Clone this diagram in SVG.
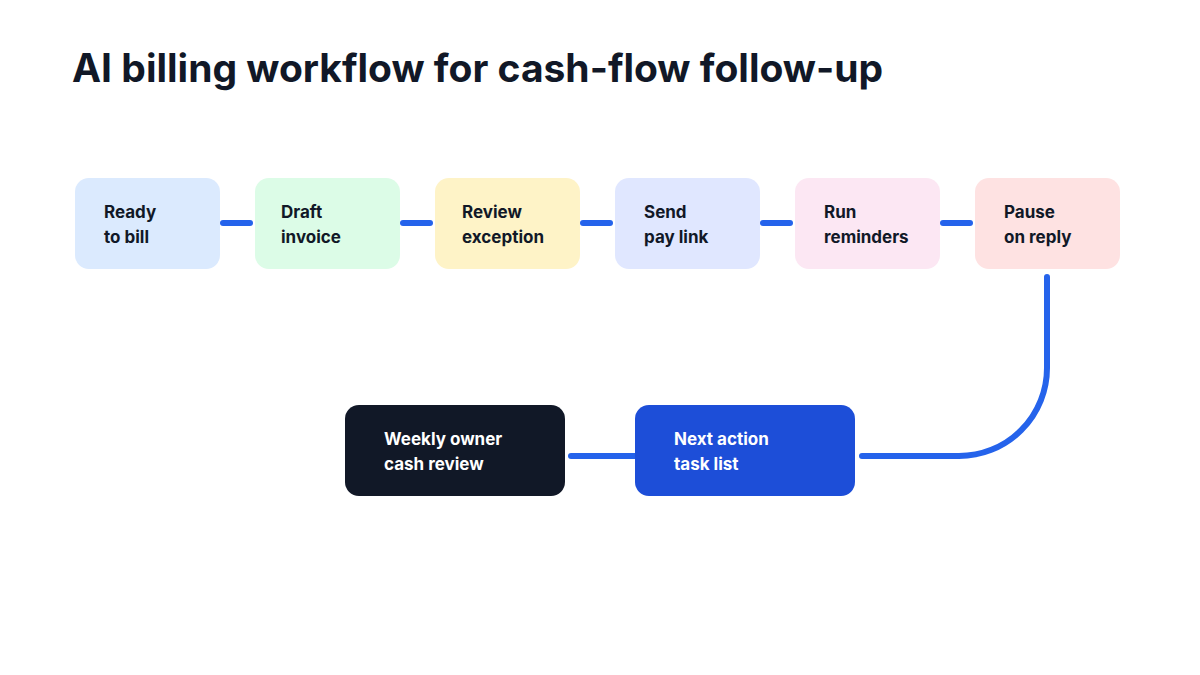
<svg xmlns="http://www.w3.org/2000/svg" width="1200" height="675" viewBox="0 0 1200 675">
<style>
.t{font-family:Inter,"Liberation Sans",sans-serif;font-weight:700;font-size:17px;fill:#111827}
.w{fill:#ffffff}
.c{stroke:#2563eb;stroke-width:6;stroke-linecap:round;fill:none}
</style>
<rect width="1200" height="675" fill="#ffffff"/>
<text x="72" y="82" font-family="Inter,'Liberation Sans',sans-serif" font-weight="700" font-size="39" fill="#111827">AI billing workflow for cash-flow follow-up</text>
<g id="connectors">
<line class="c" x1="223" y1="223" x2="250" y2="223"/>
<line class="c" x1="403" y1="223" x2="430" y2="223"/>
<line class="c" x1="583" y1="223" x2="610" y2="223"/>
<line class="c" x1="763" y1="223" x2="790" y2="223"/>
<line class="c" x1="943" y1="223" x2="970" y2="223"/>
<path class="c" d="M1047 277 V368 A88 88 0 0 1 959 456 H862"/>
<line class="c" x1="571" y1="456" x2="635" y2="456" stroke-width="5"/>
</g>
<g id="n1"><rect x="75" y="178" width="145" height="91" rx="14" fill="#dbeafe"/><text class="t" x="104" y="218">Ready</text><text class="t" x="104" y="243">to bill</text></g>
<g id="n2"><rect x="255" y="178" width="145" height="91" rx="14" fill="#dcfce7"/><text class="t" x="281" y="218">Draft</text><text class="t" x="281" y="243">invoice</text></g>
<g id="n3"><rect x="435" y="178" width="145" height="91" rx="14" fill="#fef3c7"/><text class="t" x="462" y="218">Review</text><text class="t" x="462" y="243">exception</text></g>
<g id="n4"><rect x="615" y="178" width="145" height="91" rx="14" fill="#e0e7ff"/><text class="t" x="644" y="218">Send</text><text class="t" x="644" y="243">pay link</text></g>
<g id="n5"><rect x="795" y="178" width="145" height="91" rx="14" fill="#fce7f3"/><text class="t" x="824" y="218">Run</text><text class="t" x="824" y="243">reminders</text></g>
<g id="n6"><rect x="975" y="178" width="145" height="91" rx="14" fill="#fee2e2"/><text class="t" x="1004" y="218">Pause</text><text class="t" x="1004" y="243">on reply</text></g>
<g id="n7"><rect x="635" y="405" width="220" height="91" rx="14" fill="#1d4ed8"/><text class="t w" x="674" y="445">Next action</text><text class="t w" x="674" y="470">task list</text></g>
<g id="n8"><rect x="345" y="405" width="220" height="91" rx="14" fill="#111827"/><text class="t w" x="384" y="445">Weekly owner</text><text class="t w" x="384" y="470">cash review</text></g>
</svg>
